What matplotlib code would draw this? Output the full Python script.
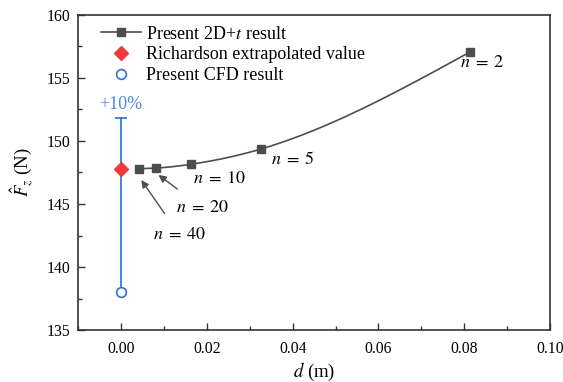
import numpy as np
import matplotlib
matplotlib.use("Agg")
import matplotlib.pyplot as plt

plt.rcParams['font.family'] = ['Liberation Serif', 'DejaVu Serif']
plt.rcParams['mathtext.fontset'] = 'stix'

# Data
n_labels = [r"$n\;=\;40$", r"$n\;=\;20$", r"$n\;=\;10$", r"$n\;=\;5$", r"$n\;=\;2$"]
d_2dt = [0.00406, 0.00813, 0.01626, 0.0325, 0.0813]
F_2dt = [147.80, 147.85, 148.15, 149.35, 157.05]
d_rich = [0.0]
F_rich = [147.75]
d_cfd = [0.0]
F_cfd = [138.0]
cfd_err_pct = 10

fig = plt.figure(figsize=(5.63, 3.82), dpi=100)
ax = fig.add_axes([0.139, 0.136, 0.838, 0.825])

# smooth curve through 2D+t points (natural cubic spline)
x = np.array(d_2dt); y = np.array(F_2dt)
nn = len(x); h = np.diff(x)
A = np.zeros((nn, nn)); b = np.zeros(nn)
A[0, 0] = 1; A[-1, -1] = 1
for i in range(1, nn - 1):
    A[i, i - 1] = h[i - 1]; A[i, i] = 2 * (h[i - 1] + h[i]); A[i, i + 1] = h[i]
    b[i] = 3 * ((y[i + 1] - y[i]) / h[i] - (y[i] - y[i - 1]) / h[i - 1])
c = np.linalg.solve(A, b)
xs, ys = [], []
for i in range(nn - 1):
    bi = (y[i + 1] - y[i]) / h[i] - h[i] * (2 * c[i] + c[i + 1]) / 3
    di = (c[i + 1] - c[i]) / (3 * h[i])
    t = np.linspace(0, h[i], 40)
    xs.append(x[i] + t)
    ys.append(y[i] + bi * t + c[i] * t**2 + di * t**3)
xs = np.concatenate(xs); ys = np.concatenate(ys)

gray = '#4d4d4d'
ax.plot(xs, ys, color=gray, lw=1.2, zorder=2)
ax.plot(d_2dt, F_2dt, 's', color=gray, ms=5.5, zorder=3)
ax.plot([], [], '-s', color=gray, lw=1.2, ms=5.5, label='Present 2D+$t$ result')

ax.plot(d_rich, F_rich, 'D', color='#ee3b3b', ms=7, zorder=4,
        label='Richardson extrapolated value')

blue = '#2a6fd6'
eb = ax.errorbar(d_cfd, F_cfd, yerr=[[0], [F_cfd[0] * cfd_err_pct / 100]],
                 fmt='none', ecolor=blue, elinewidth=1.2, capsize=4.5, capthick=1.2, zorder=3)
eb.lines[1][0].set_visible(False)
ax.plot(d_cfd, F_cfd, 'o', mfc='white', mec=blue, mew=1.2, ms=7, zorder=4,
        label='Present CFD result')
ax.text(0.0, F_cfd[0] * (1 + cfd_err_pct / 100) + 0.45, '+10%', color='#4a8ae0',
        ha='center', va='bottom', fontsize=13)

# labels
fs = 13
ax.text(0.0841, 156.2, n_labels[4], ha='center', va='center', fontsize=fs)
ax.text(0.0400, 148.55, n_labels[3], ha='center', va='center', fontsize=fs)
ax.text(0.0229, 147.0, n_labels[2], ha='center', va='center', fontsize=fs)
ax.annotate(n_labels[1], xy=(0.0087, 147.3), xytext=(0.0190, 144.7),
            ha='center', va='center', fontsize=fs,
            arrowprops=dict(arrowstyle='-|>', color=gray, lw=1.0,
                            shrinkA=9, shrinkB=0, mutation_scale=11))
ax.annotate(n_labels[0], xy=(0.0047, 146.9), xytext=(0.0136, 142.55),
            ha='center', va='center', fontsize=fs,
            arrowprops=dict(arrowstyle='-|>', color=gray, lw=1.0,
                            shrinkA=9, shrinkB=0, mutation_scale=11))

ax.set_xlim(-0.01, 0.10)
ax.set_ylim(135, 160)
ax.set_xticks(np.arange(0, 0.101, 0.02))
ax.set_xticklabels([f'{v:.2f}' for v in np.arange(0, 0.101, 0.02)])
ax.set_xticks(np.arange(-0.01, 0.101, 0.01), minor=True)
ax.set_yticks(np.arange(135, 161, 5))
ax.set_yticks(np.arange(135, 160.1, 2.5), minor=True)
ax.tick_params(which='both', direction='in', labelsize=11.3, color='#333333')
ax.tick_params(axis='x', which='both', pad=8)
ax.tick_params(axis='y', which='both', pad=6)
ax.tick_params(which='major', length=5, width=1)
ax.tick_params(which='minor', length=3, width=1)
for s in ax.spines.values():
    s.set_linewidth(1.2); s.set_color('#333333')

ax.set_xlabel('$d$ (m)', fontsize=13.5, labelpad=3)
ax.set_ylabel(r'$\hat{F}_z$ (N)', fontsize=13.5, labelpad=8)

ax.legend(loc='upper left', frameon=False, fontsize=13, handlelength=2.2,
          borderaxespad=0.2, handletextpad=0.3, labelspacing=0.2,
          bbox_to_anchor=(0.025, 1.0))

fig.savefig('out.png', dpi=100)
